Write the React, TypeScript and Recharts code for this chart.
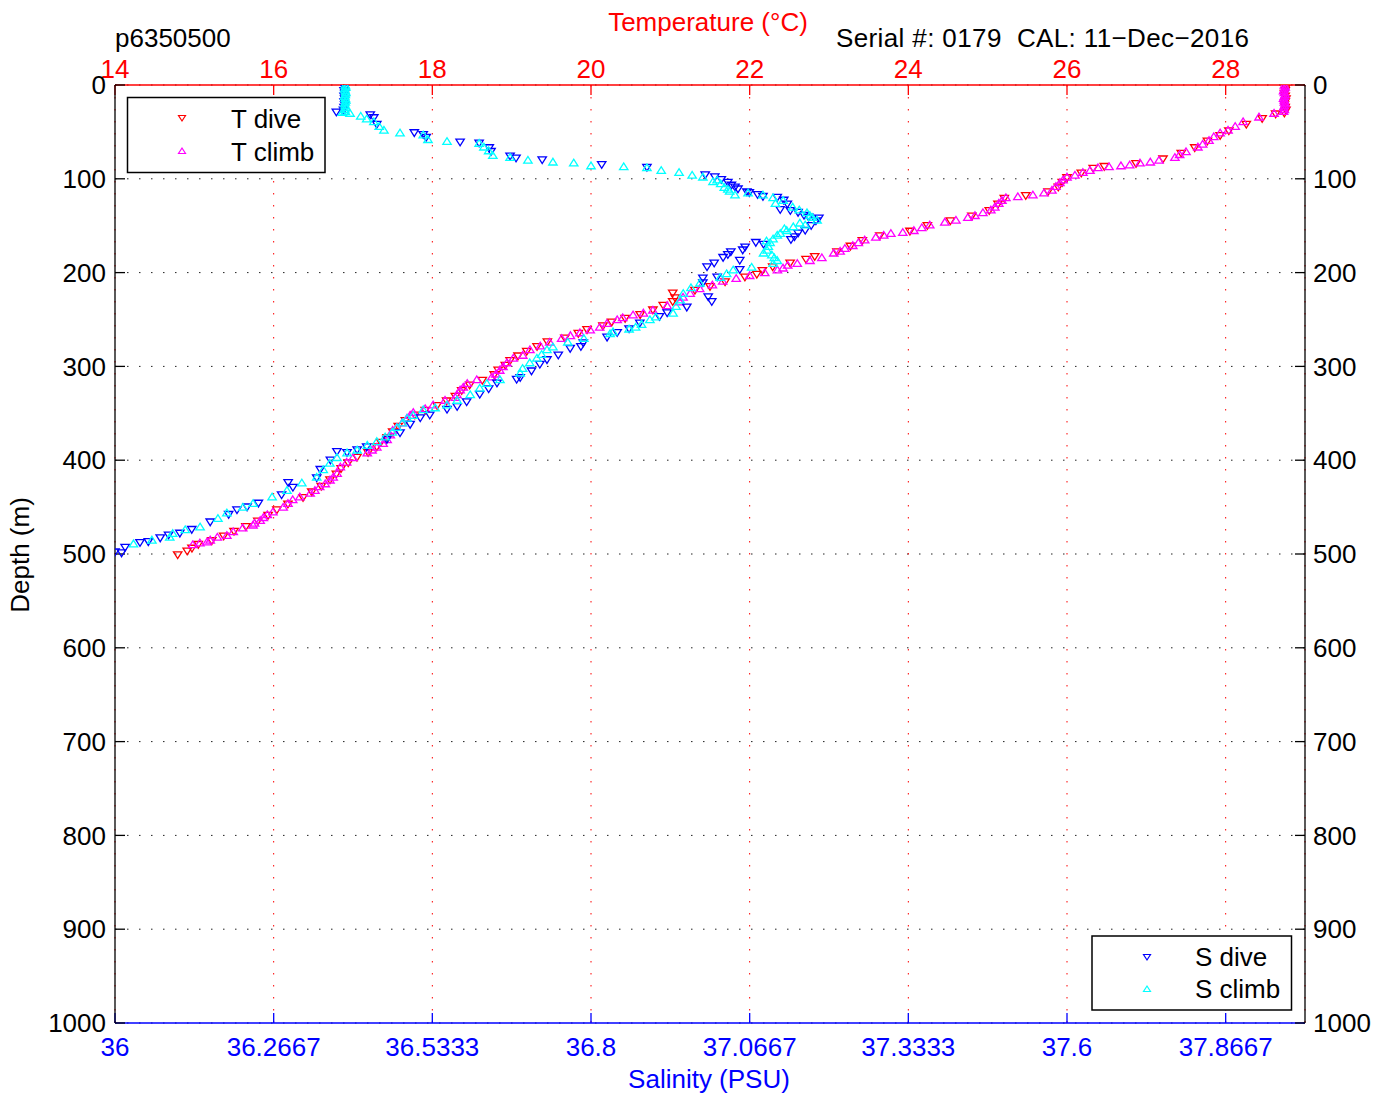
import React from 'react';
import { ScatterChart, Scatter, XAxis, YAxis, CartesianGrid } from 'recharts';

const tempTicks = [14, 16, 18, 20, 22, 24, 26, 28];
const salTicks = [36, 36.2667, 36.5333, 36.8, 37.0667, 37.3333, 37.6, 37.8667];
const depthTicks = [0, 100, 200, 300, 400, 500, 600, 700, 800, 900, 1000];

// [depth (m), temperature (C)]
const tDive: [number, number][] = [
  [0, 28.75], [3, 28.76], [6, 28.75], [9, 28.74], [12, 28.75], [15, 28.76], [18, 28.75], [21, 28.74], [24, 28.75], [27, 28.76], [30, 28.74],
  [31, 28.63], [36, 28.46], [42, 28.26], [49, 28.04], [54, 27.93], [60, 27.77], [67, 27.61], [73, 27.44], [79, 27.21], [84, 26.87],
  [87, 26.47], [89, 26.33], [94, 26.18], [99, 26.0], [104, 25.94], [109, 25.89], [114, 25.76], [118, 25.48], [121, 25.21], [127, 25.13],
  [134, 25.02], [140, 24.8], [145, 24.53], [150, 24.24], [156, 24.02], [161, 23.64], [166, 23.42], [172, 23.27], [178, 23.1], [183, 22.82],
  [186, 22.71], [190, 22.51], [194, 22.29], [198, 22.16], [202, 22.09], [205, 21.94], [210, 21.69], [215, 21.5], [219, 21.31], [222, 21.03],
  [227, 21.06], [231, 21.03], [235, 20.91], [240, 20.78], [245, 20.62], [249, 20.43], [253, 20.26], [257, 20.15], [261, 19.95], [265, 19.84],
  [270, 19.67], [274, 19.45], [279, 19.32], [284, 19.19], [289, 19.08], [294, 18.98], [299, 18.92], [304, 18.83], [309, 18.78], [315, 18.63],
  [320, 18.47], [326, 18.37], [332, 18.29], [337, 18.18], [342, 18.06], [347, 17.91], [352, 17.78], [358, 17.66], [364, 17.57], [370, 17.5],
  [376, 17.43], [381, 17.35], [386, 17.3], [392, 17.19], [397, 17.05], [403, 16.94], [409, 16.85], [415, 16.79], [421, 16.71], [428, 16.6],
  [434, 16.48], [440, 16.37], [447, 16.18], [453, 16.04], [459, 15.93], [465, 15.8], [471, 15.65], [476, 15.5], [481, 15.37], [486, 15.22],
  [490, 15.05], [494, 14.97], [497, 14.91], [501, 14.79],
];

const tClimb: [number, number][] = [
  [0, 28.74], [2, 28.75], [4, 28.74], [6, 28.73], [8, 28.74], [10, 28.75], [12, 28.74], [14, 28.73], [16, 28.74], [18, 28.74], [20, 28.75],
  [22, 28.74], [24, 28.73], [26, 28.74], [28, 28.73], [30, 28.61], [34, 28.42], [39, 28.22], [44, 28.12], [48, 28.03], [51, 27.93],
  [55, 27.85], [59, 27.79], [63, 27.71], [66, 27.65], [71, 27.5], [74, 27.42], [77, 27.36], [80, 27.16], [82, 27.05], [83, 26.92],
  [85, 26.79], [86, 26.68], [87, 26.53], [88, 26.39], [91, 26.29], [93, 26.2], [96, 26.1], [98, 26.0], [101, 25.95], [104, 25.91],
  [108, 25.86], [112, 25.81], [115, 25.71], [117, 25.57], [119, 25.38], [120, 25.23], [123, 25.18], [126, 25.14], [130, 25.09], [133, 25.04],
  [136, 24.94], [139, 24.84], [141, 24.75], [144, 24.6], [146, 24.46], [149, 24.27], [152, 24.17], [155, 24.07], [157, 23.93], [158, 23.78],
  [160, 23.69], [162, 23.59], [165, 23.45], [168, 23.37], [171, 23.3], [174, 23.2], [177, 23.14], [179, 23.06], [184, 22.91], [187, 22.76],
  [190, 22.6], [192, 22.48], [195, 22.42], [197, 22.35], [200, 22.19], [203, 22.0], [206, 21.83], [209, 21.66], [213, 21.53], [217, 21.37],
  [222, 21.25], [226, 21.16], [231, 21.12], [235, 20.96], [240, 20.78], [243, 20.66], [245, 20.53], [248, 20.4], [250, 20.33], [254, 20.2],
  [258, 20.11], [261, 19.99], [264, 19.86], [267, 19.74], [270, 19.63], [274, 19.48], [278, 19.36], [282, 19.23], [288, 19.14], [291, 19.02],
  [296, 18.94], [300, 18.89], [304, 18.85], [308, 18.8], [311, 18.75], [314, 18.56], [318, 18.44], [322, 18.39], [325, 18.35], [330, 18.31],
  [333, 18.29], [336, 18.16], [341, 18.01], [345, 17.91], [349, 17.76], [352, 17.72], [355, 17.68], [360, 17.62], [365, 17.55], [368, 17.5],
  [373, 17.47], [378, 17.43], [382, 17.38], [386, 17.3], [389, 17.24], [392, 17.18], [397, 17.0], [402, 16.92], [407, 16.84], [414, 16.8],
  [418, 16.75], [421, 16.71], [425, 16.65], [428, 16.58], [432, 16.52], [435, 16.46], [439, 16.33], [442, 16.24], [446, 16.18], [450, 16.12],
  [455, 15.99], [458, 15.92], [461, 15.87], [464, 15.83], [467, 15.76], [469, 15.74], [472, 15.61], [476, 15.49], [480, 15.41], [482, 15.29],
  [485, 15.2], [487, 15.16], [488, 15.07], [490, 14.98],
];

// [depth (m), salinity (PSU)]
const sDive: [number, number][] = [
  [0, 36.385], [3, 36.386], [6, 36.385], [9, 36.386], [12, 36.385], [15, 36.386], [18, 36.385], [21, 36.386], [24, 36.385], [27, 36.384],
  [29, 36.372], [32, 36.429], [35, 36.435], [42, 36.44], [51, 36.503], [53, 36.518], [56, 36.523], [61, 36.58], [62, 36.612], [67, 36.629],
  [71, 36.632], [76, 36.664], [78, 36.674], [80, 36.718], [85, 36.818], [88, 36.894], [96, 36.992], [98, 37.008], [101, 37.019], [104, 37.03],
  [107, 37.036], [109, 37.042], [111, 37.047], [114, 37.062], [115, 37.066], [117, 37.08], [119, 37.089], [120, 37.113], [123, 37.124],
  [127, 37.13], [133, 37.118], [134, 37.135], [136, 37.148], [139, 37.158], [141, 37.166], [142, 37.183], [145, 37.178], [150, 37.17],
  [155, 37.16], [158, 37.148], [162, 37.142], [165, 37.136], [168, 37.077], [170, 37.09], [173, 37.059], [176, 37.055], [178, 37.035],
  [181, 37.03], [184, 37.022], [187, 37.05], [190, 37.007], [194, 36.995], [197, 37.05], [205, 37.012], [206, 36.988], [211, 36.988],
  [226, 36.997], [231, 37.003], [237, 36.961], [243, 36.928], [247, 36.915], [254, 36.882], [260, 36.864], [264, 36.844], [269, 36.827],
  [275, 36.787], [279, 36.783], [281, 36.765], [288, 36.745], [293, 36.726], [298, 36.714], [305, 36.7], [312, 36.681], [314, 36.675],
  [318, 36.642], [324, 36.628], [330, 36.613], [338, 36.591], [343, 36.575], [346, 36.558], [352, 36.529], [355, 36.513], [362, 36.496],
  [371, 36.479], [378, 36.457], [386, 36.423], [389, 36.407], [391, 36.373], [392, 36.39], [400, 36.362], [410, 36.345], [419, 36.339],
  [424, 36.291], [429, 36.299], [437, 36.28], [446, 36.241], [450, 36.222], [453, 36.205], [458, 36.191], [466, 36.16], [474, 36.129],
  [478, 36.109], [480, 36.09], [483, 36.076], [487, 36.056], [488, 36.042], [493, 36.017], [498, 36.0], [499, 36.011],
];

const sClimb: [number, number][] = [
  [0, 36.387], [2, 36.388], [4, 36.386], [6, 36.387], [8, 36.388], [10, 36.387], [12, 36.386], [14, 36.387], [16, 36.388], [18, 36.387],
  [20, 36.386], [22, 36.387], [24, 36.388], [26, 36.386], [28, 36.387], [29, 36.382], [30, 36.395], [33, 36.413], [36, 36.423], [39, 36.435],
  [44, 36.444], [48, 36.452], [51, 36.479], [53, 36.518], [58, 36.526], [60, 36.558], [62, 36.612], [66, 36.62], [70, 36.628], [75, 36.635],
  [77, 36.664], [80, 36.694], [82, 36.736], [83, 36.771], [86, 36.8], [87, 36.855], [88, 36.894], [91, 36.918], [93, 36.948], [96, 36.97],
  [98, 36.988], [101, 37.012], [103, 37.005], [105, 37.018], [109, 37.024], [111, 37.03], [113, 37.033], [117, 37.042], [115, 37.064],
  [117, 37.089], [120, 37.106], [123, 37.123], [126, 37.11], [130, 37.139], [133, 37.15], [136, 37.163], [139, 37.168], [141, 37.172],
  [144, 37.18], [147, 37.151], [149, 37.16], [151, 37.14], [153, 37.125], [155, 37.129], [158, 37.118], [160, 37.113], [164, 37.106],
  [166, 37.095], [168, 37.101], [172, 37.098], [176, 37.096], [179, 37.09], [181, 37.104], [184, 37.108], [187, 37.113], [190, 37.106],
  [194, 37.07], [197, 37.039], [201, 37.028], [205, 37.017], [211, 36.983], [216, 36.968], [222, 36.955], [229, 36.95], [236, 36.943],
  [243, 36.938], [247, 36.909], [250, 36.899], [255, 36.885], [258, 36.875], [260, 36.864], [263, 36.837], [265, 36.832], [270, 36.788],
  [274, 36.761], [279, 36.736], [282, 36.726], [287, 36.717], [291, 36.709], [296, 36.697], [302, 36.685], [307, 36.681], [314, 36.647],
  [318, 36.625], [323, 36.613], [330, 36.597], [336, 36.575], [341, 36.558], [344, 36.538], [346, 36.518], [352, 36.501], [355, 36.491],
  [360, 36.483], [365, 36.474], [370, 36.466], [375, 36.454], [380, 36.44], [384, 36.424], [389, 36.407], [392, 36.39], [397, 36.373],
  [403, 36.361], [410, 36.35], [418, 36.339], [424, 36.314], [432, 36.289], [439, 36.264], [446, 36.232], [450, 36.215], [456, 36.188],
  [462, 36.173], [471, 36.143], [474, 36.118], [478, 36.097], [482, 36.092], [485, 36.062], [489, 36.031],
];

const RED = '#ff0000';
const MAGENTA = '#ff00ff';
const BLUE = '#0000ff';
const CYAN = '#00ffff';
const FONT = '"Liberation Sans", Arial, Helvetica, sans-serif';

const toT = (rows: [number, number][]) => rows.map(([d, t]) => ({ d, t }));
const toS = (rows: [number, number][]) => rows.map(([d, s]) => ({ d, s }));

const triPoints = (cx: number, cy: number, down: boolean, w = 4.2, h = 3.6) =>
  down
    ? `${cx - w},${cy - h + 0.5} ${cx + w},${cy - h + 0.5} ${cx},${cy + h}`
    : `${cx - w},${cy + h - 0.5} ${cx + w},${cy + h - 0.5} ${cx},${cy - h}`;

const triangle = (color: string, down: boolean) => (props: any) => {
  const { cx, cy } = props;
  if (cx == null || cy == null) return <g />;
  return <polygon points={triPoints(cx, cy, down)} fill="none" stroke={color} strokeWidth={1.3} />;
};

const LegendMark = ({ x, y, color, down }: { x: number; y: number; color: string; down: boolean }) => (
  <polygon points={triPoints(x, y, down, 3.5, 3)} fill="none" stroke={color} strokeWidth={1.2} />
);

export default function App() {
  return (
    <div style={{ position: 'absolute', left: 0, top: 0, width: 1390, height: 1095, background: '#fff', fontFamily: FONT }}>
      <ScatterChart width={1390} height={1095} margin={{ top: 45, right: 25, bottom: 32, left: 55 }}>
        <CartesianGrid xAxisId="T" yAxisId="L" vertical={false} stroke="#222" strokeDasharray="1.5 10.5" />
        <CartesianGrid xAxisId="T" yAxisId="L" horizontal={false} stroke={RED} strokeDasharray="1.5 10.5" />
        <XAxis
          xAxisId="T"
          orientation="top"
          type="number"
          dataKey="t"
          domain={[14, 29]}
          allowDataOverflow
          ticks={tempTicks}
          interval={0}
          height={40}
          tickSize={-10}
          tickMargin={17}
          axisLine={{ stroke: RED, strokeWidth: 1.3 }}
          tickLine={{ stroke: RED, strokeWidth: 1.3 }}
          tick={{ fill: RED, fontSize: 26 }}
        />
        <XAxis
          xAxisId="S"
          orientation="bottom"
          type="number"
          dataKey="s"
          domain={[36, 38]}
          allowDataOverflow
          ticks={salTicks}
          interval={0}
          height={40}
          tickSize={-10}
          tickMargin={25}
          tickFormatter={(v: number) => String(v)}
          axisLine={{ stroke: BLUE, strokeWidth: 1.3 }}
          tickLine={{ stroke: BLUE, strokeWidth: 1.3 }}
          tick={{ fill: BLUE, fontSize: 26 }}
        />
        <YAxis
          yAxisId="L"
          orientation="left"
          type="number"
          dataKey="d"
          domain={[0, 1000]}
          reversed
          allowDataOverflow
          ticks={depthTicks}
          interval={0}
          width={60}
          tickSize={-10}
          tickMargin={19}
          axisLine={{ stroke: '#000', strokeWidth: 1.3 }}
          tickLine={{ stroke: '#000', strokeWidth: 1.3 }}
          tick={{ fill: '#000', fontSize: 26 }}
        />
        <YAxis
          yAxisId="R"
          orientation="right"
          type="number"
          domain={[0, 1000]}
          reversed
          allowDataOverflow
          ticks={depthTicks}
          interval={0}
          width={60}
          tickSize={-10}
          tickMargin={18}
          axisLine={{ stroke: '#000', strokeWidth: 1.3 }}
          tickLine={{ stroke: '#000', strokeWidth: 1.3 }}
          tick={{ fill: '#000', fontSize: 26 }}
        />
        <Scatter name="T dive" data={toT(tDive)} xAxisId="T" yAxisId="L" shape={triangle(RED, true)} isAnimationActive={false} />
        <Scatter name="T climb" data={toT(tClimb)} xAxisId="T" yAxisId="L" shape={triangle(MAGENTA, false)} isAnimationActive={false} />
        <Scatter name="S dive" data={toS(sDive)} xAxisId="S" yAxisId="L" shape={triangle(BLUE, true)} isAnimationActive={false} />
        <Scatter name="S climb" data={toS(sClimb)} xAxisId="S" yAxisId="L" shape={triangle(CYAN, false)} isAnimationActive={false} />
      </ScatterChart>

      <svg
        width={1390}
        height={1095}
        style={{ position: 'absolute', left: 0, top: 0, pointerEvents: 'none', fontFamily: FONT }}
      >
        <text x={708} y={31} fontSize={26} fill={RED} textAnchor="middle">Temperature (°C)</text>
        <text x={115} y={47} fontSize={26} fill="#000">p6350500</text>
        <text x={836} y={47} fontSize={26} fill="#000" textLength={413} lengthAdjust="spacing" style={{ whiteSpace: 'pre' }}>
          {'Serial #: 0179  CAL: 11\u2212Dec\u22122016'}
        </text>
        <text x={709} y={1088} fontSize={26} fill={BLUE} textAnchor="middle">Salinity (PSU)</text>
        <text x={29} y={555} fontSize={26} fill="#000" textAnchor="middle" transform="rotate(-90 29 555)">Depth (m)</text>

        <rect x={127.5} y={97.5} width={197.5} height={75} fill="#fff" stroke="#000" strokeWidth={1.5} />
        <LegendMark x={182} y={118} color={RED} down />
        <LegendMark x={182} y={151} color={MAGENTA} down={false} />
        <text x={231} y={128} fontSize={26} fill="#000">T dive</text>
        <text x={231} y={161} fontSize={26} fill="#000">T climb</text>

        <rect x={1092} y={936} width={199.5} height={74} fill="#fff" stroke="#000" strokeWidth={1.5} />
        <LegendMark x={1147} y={957} color={BLUE} down />
        <LegendMark x={1147} y={989} color={CYAN} down={false} />
        <text x={1195} y={966} fontSize={26} fill="#000">S dive</text>
        <text x={1195} y={998} fontSize={26} fill="#000">S climb</text>
      </svg>
    </div>
  );
}
